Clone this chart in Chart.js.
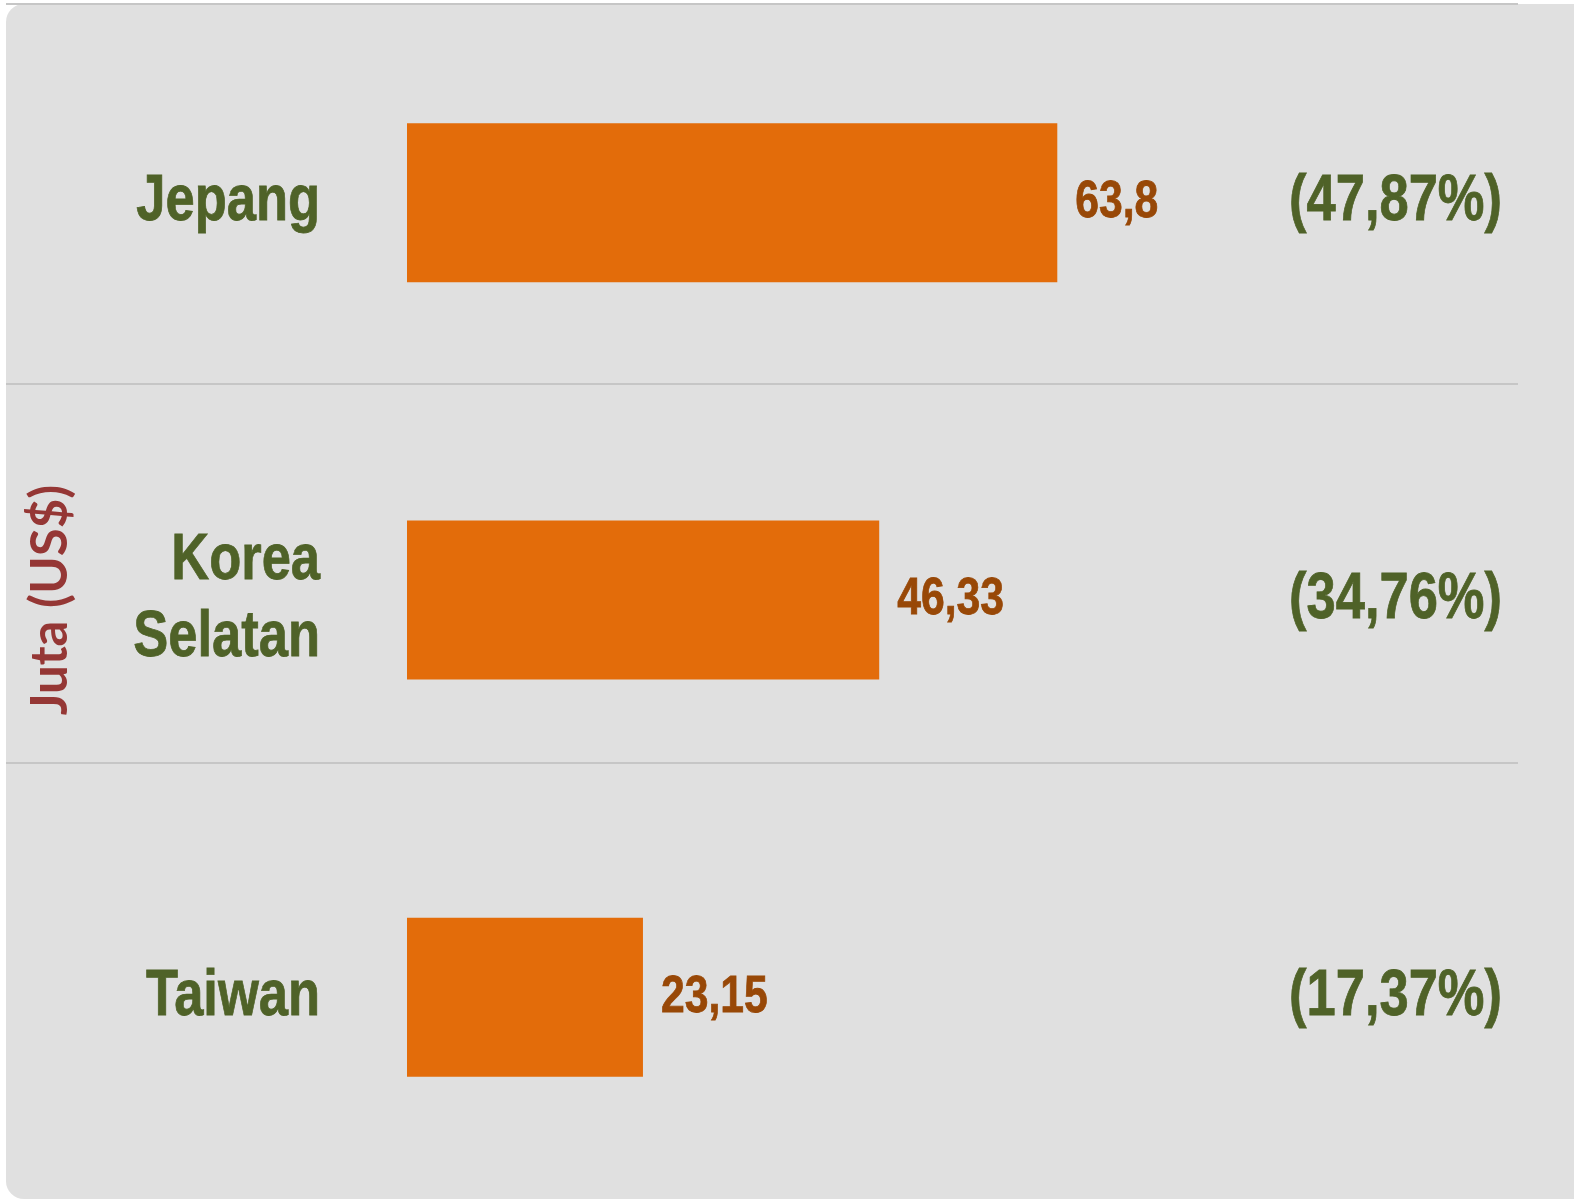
<!DOCTYPE html>
<html>
<head>
<meta charset="utf-8">
<script src="https://cdn.jsdelivr.net/npm/chart.js@4.4.1/dist/chart.umd.min.js"></script>
<style>
    html, body { margin: 0; padding: 0; background: #ffffff; }
    #wrap { position: relative; width: 1574px; height: 1200px; overflow: hidden; }
    #panel {
        position: absolute; left: 6px; top: 4px; width: 1568px; height: 1195px;
        background: #e0e0e0; border-radius: 18px 0 0 18px;
    }
    #myChart { position: absolute; left: 0; top: 0; }
</style>
</head>
<body>
<div id="wrap">
    <div id="panel"></div>
    <canvas id="myChart" width="1574" height="1200"></canvas>
</div>
<script>
// data
const countries = [['Jepang'], ['Korea', 'Selatan'], ['Taiwan']];
const values = [63.8, 46.33, 23.15];
const valueLabels = ['63,8', '46,33', '23,15'];
const shareLabels = ['(47,87%)', '(34,76%)', '(17,37%)'];
const axisTitle = 'Juta (US$)';

// no narrow font installed, so squeeze Liberation Sans by hand
const sans = "'Liberation Sans', Arial, sans-serif";
const squeeze = 0.82;
const green = '#4f6228';
const brown = '#984807';

function narrowText(ctx, text, x, y, align, font, color) {
    ctx.save();
    ctx.translate(x, y);
    ctx.scale(squeeze, 1);
    ctx.font = font;
    ctx.fillStyle = color;
    ctx.strokeStyle = color;
    ctx.lineWidth = 0.8; // a touch heavier, like the original narrow bold
    ctx.textAlign = align;
    ctx.textBaseline = 'middle';
    ctx.fillText(text, 0, 0);
    ctx.strokeText(text, 0, 0);
    ctx.restore();
}

// horizontal separator lines, running across the label column too
const separatorLines = {
    id: 'separatorLines',
    beforeDatasetsDraw(chart) {
        const ctx = chart.ctx;
        const yg = chart.scales.yg;
        const left = chart.scales.y.left;
        const right = chart.chartArea.right;
        ctx.save();
        ctx.strokeStyle = '#c6c6c6';
        ctx.lineWidth = 2;
        [0, 1, 2].forEach(v => {
            const py = Math.round(yg.getPixelForValue(v));
            ctx.beginPath();
            ctx.moveTo(left, py);
            ctx.lineTo(right, py);
            ctx.stroke();
        });
        ctx.restore();
    }
};

// category names, value at bar end, share on the right
const barLabels = {
    id: 'barLabels',
    afterDatasetsDraw(chart) {
        const ctx = chart.ctx;
        const yScale = chart.scales.y;
        const meta = chart.getDatasetMeta(0);
        const lineH = 64 * 1.2;

        countries.forEach((lines, i) => {
            const cy = yScale.getPixelForTick(i);
            const y0 = cy - (lines.length - 1) * lineH / 2;
            lines.forEach((t, k) => {
                narrowText(ctx, t, yScale.right - 87, y0 + k * lineH, 'right', 'bold 64px ' + sans, green);
            });
        });

        meta.data.forEach((bar, i) => {
            narrowText(ctx, valueLabels[i], bar.x + 18, bar.y, 'left', 'bold 52px ' + sans, brown);
            narrowText(ctx, shareLabels[i], chart.chartArea.right - 16, bar.y, 'right', 'bold 64px ' + sans, green);
        });
    }
};

const ctx = document.getElementById('myChart').getContext('2d');
window.myChart = new Chart(ctx, {
    type: 'bar',
    data: {
        labels: countries,
        datasets: [{
            data: values,
            backgroundColor: '#e36c0a',
            borderWidth: 0,
            categoryPercentage: 1.0,
            barPercentage: 0.4
        }]
    },
    options: {
        indexAxis: 'y',
        responsive: false,
        animation: false,
        layout: { padding: { left: 6, right: 56, top: 4, bottom: 4 } },
        plugins: {
            legend: { display: false },
            tooltip: { enabled: false }
        },
        scales: {
            x: {
                display: false,
                min: 0,
                max: 109
            },
            y: {
                grid: { display: false },
                border: { display: false },
                afterFit: function(scale) { scale.width = 401; },
                ticks: { display: false },
                title: {
                    display: true,
                    text: axisTitle,
                    color: '#953735',
                    padding: { top: 14, bottom: 0 },
                    font: { family: "Lato, 'Open Sans', sans-serif", size: 51, weight: 'bold', lineHeight: 1.2 }
                }
            },
            // helper scale for the separator lines, kept invisible
            yg: {
                type: 'linear',
                axis: 'y',
                position: 'right',
                reverse: true,
                offset: false,
                grace: 0,
                min: 0,
                max: 3.139,
                grid: { display: false, drawTicks: false },
                border: { display: false },
                ticks: { display: false, padding: 0 },
                afterFit: function(scale) { scale.width = 0; }
            }
        }
    },
    plugins: [separatorLines, barLabels]
});
</script>
</body>
</html>
